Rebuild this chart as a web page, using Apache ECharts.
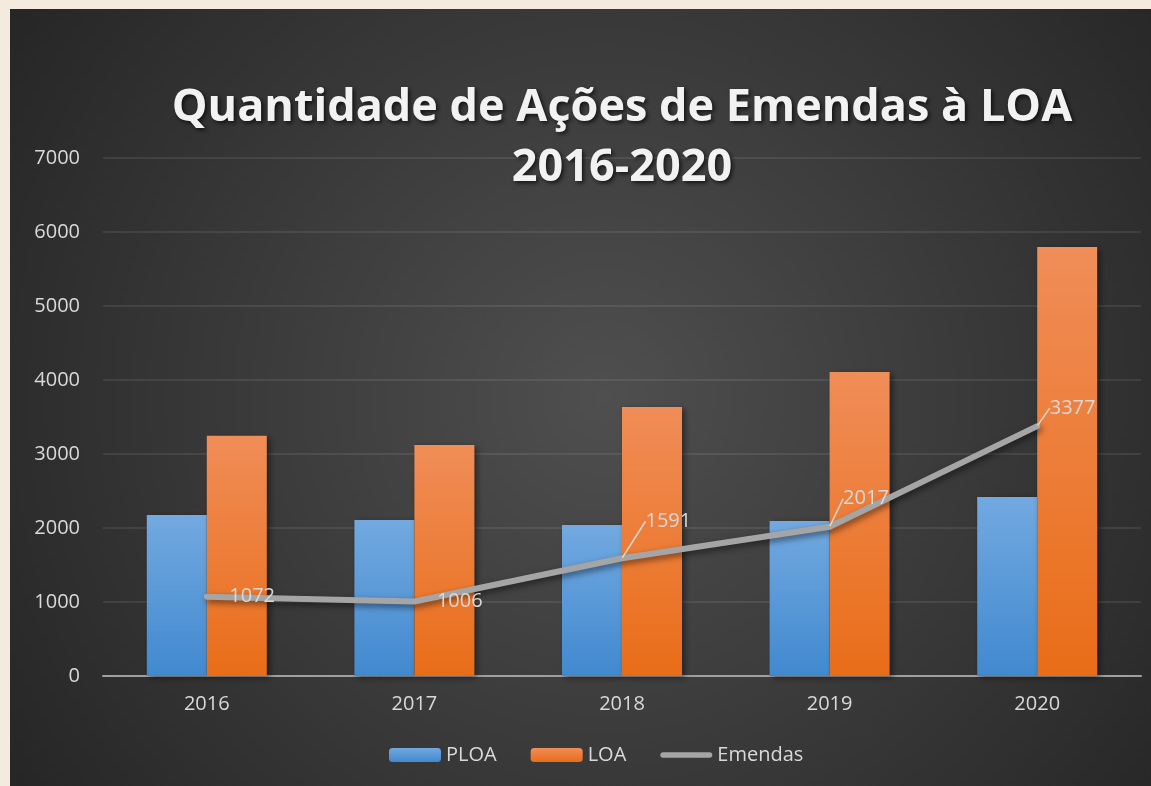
<!DOCTYPE html>
<html>
<head>
<meta charset="utf-8">
<script src="https://cdn.jsdelivr.net/npm/echarts@6/dist/echarts.min.js"></script>
<style>
  html, body { margin: 0; padding: 0; background: #f4eadd; }
  #chart { position: absolute; left: 10px; top: 9px; width: 1141px; height: 777px; }
</style>
</head>
<body>
<div id="chart"></div>
<script>
const FONT = '"Open Sans", "Noto Sans", sans-serif';
const TEXT = '#d9d9d9';

const years = ['2016', '2017', '2018', '2019', '2020'];
const ploa = [2175, 2108, 2041, 2095, 2419];
const loa = [3245, 3122, 3635, 4108, 5797];
const emendas = [1072, 1006, 1591, 2017, 3377];

// label moves for the hand-placed labels (px), by index
const labelShift = [[0, 0], [0, 0], [1, -37], [-9, -28], [-10, -18]];

const chart = echarts.init(document.getElementById('chart'), null, { renderer: 'canvas' });

function grad(top, bottom) {
    return new echarts.graphic.LinearGradient(0, 0, 0, 1, [
        { offset: 0, color: top },
        { offset: 1, color: bottom },
    ]);
}

const barShadow = {
    shadowBlur: 6,
    shadowColor: 'rgba(0,0,0,0.45)',
    shadowOffsetX: 3,
    shadowOffsetY: 2,
};

chart.setOption({
    backgroundColor: {
        type: 'radial', x: 0.52, y: 0.5, r: 0.95,
        colorStops: [
            { offset: 0, color: '#4f4f4f' },
            { offset: 1, color: '#242424' },
        ],
    },
    textStyle: { fontFamily: FONT },
    title: {
        text: 'Quantidade de Ações de Emendas à LOA\n2016-2020',
        left: 607,
        textAlign: 'center',
        top: 64,
        textStyle: {
            fontFamily: FONT,
            fontSize: 45,
            fontWeight: 'bold',
            color: '#f2f2f2',
            lineHeight: 60,
            textShadowColor: 'rgba(0,0,0,0.7)',
            textShadowBlur: 4,
            textShadowOffsetX: 2,
            textShadowOffsetY: 2,
        },
    },
    legend: {
        left: 374,
        top: 731,
        itemWidth: 52,
        itemHeight: 14,
        itemGap: 34,
        textStyle: { color: TEXT, fontSize: 20, fontFamily: FONT },
        data: [
            'PLOA',
            'LOA',
            {
                name: 'Emendas',
                icon: 'path://M3,0 L54,0 A3,3 0 0 1 54,6 L3,6 A3,3 0 0 1 3,0 Z',
                itemStyle: { color: '#a5a5a5', opacity: 1 },
            },
        ],
    },
    grid: { left: 93, right: 10, top: 149, bottom: 110 },
    xAxis: {
        type: 'category',
        data: years,
        axisLine: { lineStyle: { color: '#a0a0a0', width: 2 } },
        axisTick: { show: false },
        axisLabel: { color: TEXT, fontSize: 20, margin: 18, fontFamily: FONT },
    },
    yAxis: {
        type: 'value',
        min: 0,
        max: 7000,
        interval: 1000,
        axisLine: { show: false },
        axisTick: { show: false },
        axisLabel: { color: TEXT, fontSize: 20, margin: 23, fontFamily: FONT, formatter: v => String(v) },
        splitLine: { lineStyle: { color: 'rgba(255,255,255,0.11)', width: 1.5 } },
    },
    series: [
        {
            name: 'PLOA',
            type: 'bar',
            data: ploa,
            barWidth: 60,
            barGap: '0%',
            itemStyle: Object.assign({ color: grad('#72a9e0', '#4189cf') }, barShadow),
        },
        {
            name: 'LOA',
            type: 'bar',
            data: loa,
            barWidth: 60,
            barGap: '0%',
            itemStyle: Object.assign({ color: grad('#f08d58', '#e96d18') }, barShadow),
        },
        {
            name: 'Emendas',
            type: 'line',
            data: emendas.map((v, i) => ({
                value: v,
                labelLine: { show: labelShift[i][1] !== 0 },
            })),
            symbol: 'circle',
            symbolSize: 1,
            showSymbol: true,
            itemStyle: { color: 'rgba(0,0,0,0)' },
            lineStyle: {
                color: '#a5a5a5',
                width: 6,
                cap: 'round',
                join: 'round',
                shadowBlur: 6,
                shadowColor: 'rgba(0,0,0,0.5)',
                shadowOffsetX: 2,
                shadowOffsetY: 3,
            },
            label: {
                show: true,
                position: 'right',
                distance: 22,
                color: TEXT,
                fontSize: 20,
                fontFamily: FONT,
            },
            labelLine: { lineStyle: { color: '#d9d9d9', width: 1.5 } },
            labelLayout: params => {
                const s = labelShift[params.dataIndex];
                return { dx: s[0], dy: s[1] };
            },
            z: 5,
        },
    ],
});
</script>
</body>
</html>
